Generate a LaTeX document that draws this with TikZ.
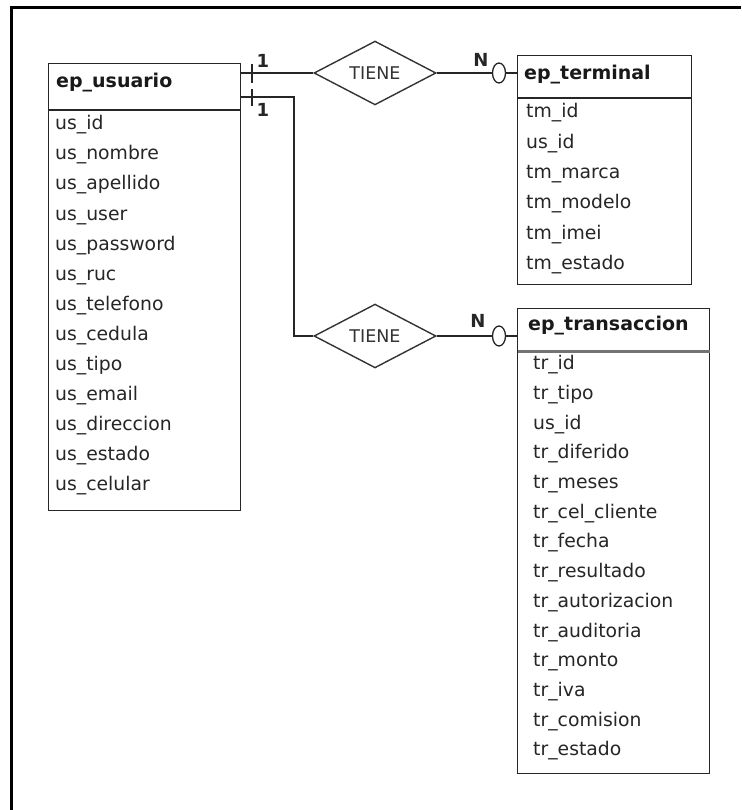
\documentclass[tikz,border=0pt]{standalone}
\usepackage{fontspec}
\setmainfont{DejaVu Sans}
\usetikzlibrary{shapes.geometric}
\begin{document}
\begin{tikzpicture}[x=1pt,y=-1pt,
  box/.style={draw=black!85,line width=1.3pt,rectangle,inner sep=0pt,anchor=north west},
  rel/.style={draw=black!80,line width=1.4pt,diamond,inner sep=0pt,minimum width=122,minimum height=60,font=\fontsize{17.5}{20}\selectfont,text=black!80},
  hdr/.style={anchor=mid west,inner sep=0pt,font=\fontsize{19}{22}\selectfont\bfseries,text=black!90},
  attr/.style={anchor=mid west,inner sep=0pt,font=\fontsize{18.8}{22}\selectfont,text=black!85},
  card/.style={inner sep=0pt,font=\fontsize{18}{20}\selectfont\bfseries,text=black!85},
  conn/.style={draw=black!85,line width=1.3pt}]
\useasboundingbox (0,0) rectangle (741,810);
\fill[white] (0,0) rectangle (741,810);
% frame
\draw[line width=3pt,black] (11,810) -- (11,7.5) -- (741,7.5);

% entities
\node[box,minimum width=192,minimum height=447] (usu) at (48,63) {};
\node[box,minimum width=174,minimum height=229] (term) at (517,55) {};
\node[box,minimum width=192,minimum height=465] (tran) at (517,308) {};
\draw[conn] (usu.west |- 0,110) -- (usu.east |- 0,110);
\draw[conn] (term.west |- 0,98) -- (term.east |- 0,98);
\draw[draw=black!55,line width=3pt] ([xshift=0.7pt]tran.west |- 0,351) -- ([xshift=-0.7pt]tran.east |- 0,351);

\node[hdr] (usuh) at (56,85) {ep\_usuario};
\node[hdr] (termh) at (524,77) {ep\_terminal};
\node[hdr] (tranh) at (528,328) {ep\_transaccion};

\foreach \t [count=\i from 0] in {us\_id,us\_nombre,us\_apellido,us\_user,us\_password,us\_ruc,us\_telefono,us\_cedula,us\_tipo,us\_email,us\_direccion,us\_estado,us\_celular}
  \node[attr] (ua\i) at (55,127+30.1*\i) {\t};
\foreach \t [count=\i from 0] in {tm\_id,us\_id,tm\_marca,tm\_modelo,tm\_imei,tm\_estado}
  \node[attr] (ta\i) at (526,115+30.4*\i) {\t};
\foreach \t [count=\i from 0] in {tr\_id,tr\_tipo,us\_id,tr\_diferido,tr\_meses,tr\_cel\_cliente,tr\_fecha,tr\_resultado,tr\_autorizacion,tr\_auditoria,tr\_monto,tr\_iva,tr\_comision,tr\_estado}
  \node[attr] (ra\i) at (533,367+29.7*\i) {\t};

% relationships
\node[rel] (d1) at (375,73) {TIENE};
\node[rel] (d2) at (375,336) {TIENE};

% connectors
\coordinate (u2) at (240,97);
\coordinate (bend1) at (294,97);
\draw[conn] (d1.west -| usu.east) -- (d1.west);
\draw[conn] (d1.east) -- (d1.east -| term.west);
\draw[conn] (u2) -- (bend1) |- (d2.west);
\draw[conn] (d2.east) -- (d2.east -| tran.west);

% cardinality marks
\draw[conn] (252,64) -- (252,83);
\draw[conn] (252,89) -- (252,106);
\node[card] (c1) at (263,61) {1};
\node[card] (c2) at (263,110) {1};
\draw[conn,fill=white] (499,73) ellipse [x radius=6.5, y radius=10];
\draw[conn,fill=white] (499,336) ellipse [x radius=6.5, y radius=10];
\node[card] (n1) at (481,60) {N};
\node[card] (n2) at (478,321) {N};
\end{tikzpicture}
\end{document}
